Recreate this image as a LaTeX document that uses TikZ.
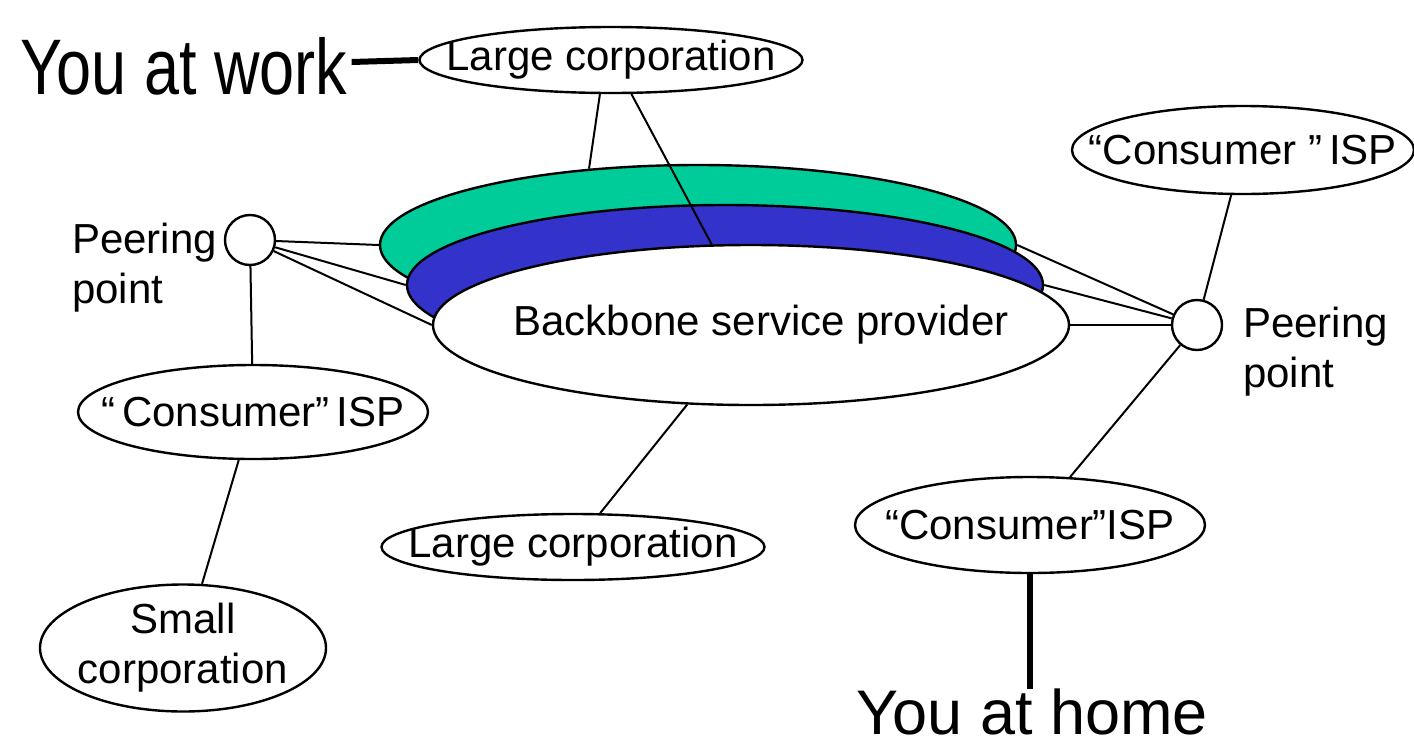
\documentclass[tikz,border=0pt]{standalone}
\usepackage{fontspec}
\setmainfont{Liberation Sans}
\usetikzlibrary{shapes.geometric}

\definecolor{bbgreen}{RGB}{0,204,153}
\definecolor{bbblue}{RGB}{51,51,204}

\tikzset{
  site/.style 2 args={ellipse, draw, line width=2.4pt, fill=white, inner sep=0pt,
    minimum width=#1pt, minimum height=#2pt},
  peer/.style={circle, draw, line width=2.4pt, fill=white, minimum size=50pt, inner sep=0pt},
  link/.style={line width=2pt},
  heavy/.style={line width=6pt},
  you/.style={inner sep=0pt, font=\fontsize{63}{70}\selectfont}
}

\begin{document}
\begin{tikzpicture}[x=1pt, y=-1pt, font=\fontsize{42}{50}\selectfont]

    \useasboundingbox (0,0) rectangle (1414,745);

    % backbone, three layers
    \node[site={636}{160}, fill=bbgreen] (green) at (698,245) {};
    \node[site={636}{160}, fill=bbblue]  (blue)  at (725,285) {};
    \node[site={636}{160}, label={[xshift=10pt]center:Backbone service provider}] (bb) at (751,325) {};

    % peering points
    \node[peer] (lpeer) at (250,240) {};
    \node[peer] (rpeer) at (1197,325) {};
    \node[anchor=west, align=left, inner sep=0pt] (lpeerlbl) at (72,268) {Peering\\point};
    \node[anchor=west, align=left, inner sep=0pt] (rpeerlbl) at (1243,352) {Peering\\point};

    % customers
    \node[site={383}{66}, label={center:Large corporation}] (topcorp) at (611,60) {};
    \node[site={383}{66}, label={center:Large corporation}] (botcorp) at (573,547) {};
    \node[site={350}{94}, label={center:“\,Consumer”\,ISP}] (lisp) at (253,412) {};
    \node[site={342}{88}, label={center:“Consumer\ ”\,ISP}] (trisp) at (1243,150) {};
    \node[site={350}{96}, label={center:“Consumer”ISP}] (brisp) at (1030,525) {};
    \node[site={286}{127}, label={[align=center]center:Small\\corporation}] (smallcorp) at (183,648) {};

    \node[you] (work) at (184,66) {\scalebox{1}[1.25]{You at work}};
    \node[you] (home) at (1032,712) {You at home};

    % links
    \draw[link] (topcorp.252) -- (green.145);
    \draw[link] (topcorp.301) -- (bb.116);
    \draw[link] (lpeer) -- (green.west);
    \draw[link] (lpeer) -- (blue.west);
    \draw[link] (lpeer) -- (bb.west);
    \draw[link] (lpeer) -- (lisp);
    \draw[link] (lisp) -- (smallcorp);
    \draw[link] (bb) -- (botcorp);
    \draw[link] (rpeer) -- (bb.east);
    \draw[link] (rpeer) -- (blue.east);
    \draw[link] (rpeer) -- (green.east);
    \draw[link] (rpeer) -- (trisp);
    \draw[link] (rpeer) -- (brisp);

    \draw[heavy] (work.east) ++(4,-4) -- (topcorp.west);
    \draw[heavy] (brisp.south) -- (brisp.south |- home.north);

  \end{tikzpicture}
\end{document}
